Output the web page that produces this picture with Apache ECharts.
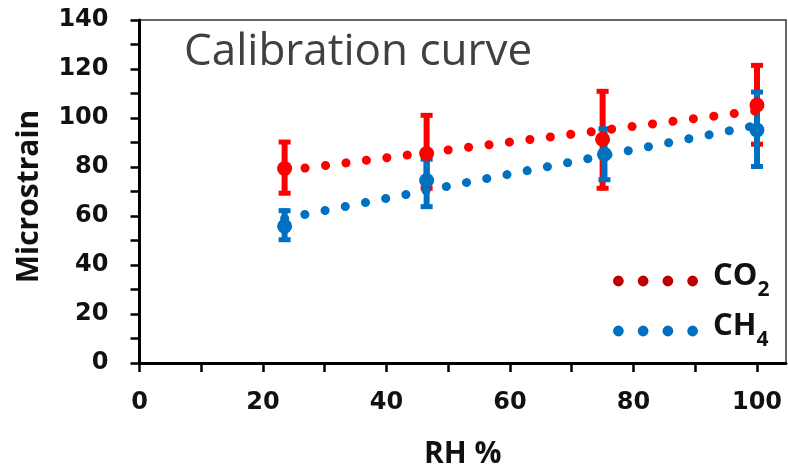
<!DOCTYPE html>
<html><head><meta charset="utf-8">
<script src="https://cdn.jsdelivr.net/npm/echarts@6/dist/echarts.min.js"></script>
<style>html,body{margin:0;padding:0;background:#fff}#c{width:788px;height:468px}</style>
</head><body><div id="c"></div>
<script>
// RH (%) of measurements
const rhCO2 = [23.5, 46.5, 75, 100];
const rhCH4 = [23.5, 46.5, 75.3, 100];
// CO2 microstrain mean and error-bar ends
const co2 = [79.4, 85.5, 91.3, 105.3];
const co2Low = [68.5, 70.5, 70.5, 88.5];
const co2High = [91, 101.9, 111.7, 122.3];
// CH4 microstrain mean and error-bar ends
const ch4 = [55.8, 74.5, 85.2, 95.1];
const ch4Low = [49.5, 63, 74, 79.4];
const ch4High = [63, 84, 96.4, 111.4];
// trend line ends
const trendX = [23.5, 100];
const co2Trend = [78.5, 103];
const ch4Trend = [59, 97];
// axis ticks
const xTicks = [0,10,20,30,40,50,60,70,80,90,100];
const xLabels = [0,20,40,60,80,100];
const yTicks = [0,10,20,30,40,50,60,70,80,90,100,110,120,130,140];
const yLabels = [0,20,40,60,80,100,120,140];

const RED = '#FF0000', BLUE = '#0070C0';
const pairs = (xs, ys) => xs.map((x, i) => [x, ys[i]]);
const errData = (xs, lo, hi) => xs.map((x, i) => [x, lo[i], hi[i]]);

function errRender(color) {
  return function (params, api) {
    const x = api.value(0), lo = api.value(1), hi = api.value(2);
    const p1 = api.coord([x, lo]), p2 = api.coord([x, hi]);
    const cw = 6;
    return {
      type: 'group',
      children: [
        {type: 'line', shape: {x1: p1[0], y1: p1[1], x2: p2[0], y2: p2[1]}, style: {stroke: color, lineWidth: 6}},
        {type: 'line', shape: {x1: p1[0]-cw, y1: p1[1]-2, x2: p1[0]+cw, y2: p1[1]-2}, style: {stroke: color, lineWidth: 5}},
        {type: 'line', shape: {x1: p2[0]-cw, y1: p2[1]+2, x2: p2[0]+cw, y2: p2[1]+2}, style: {stroke: color, lineWidth: 5}}
      ]
    };
  };
}

const dotsIcon = 'path://M0,5a5,5 0 1,0 10,0a5,5 0 1,0 -10,0ZM23,5a5,5 0 1,0 10,0a5,5 0 1,0 -10,0ZM46,5a5,5 0 1,0 10,0a5,5 0 1,0 -10,0ZM69,5a5,5 0 1,0 10,0a5,5 0 1,0 -10,0Z';
const legendText = {
  color: '#111',
  padding: [0, 0, 0, 10],
  rich: {
    a: {fontFamily: 'Open Sans', fontWeight: 'bold', fontSize: 31, lineHeight: 40, verticalAlign: 'top', color: '#111'},
    b: {fontFamily: 'Open Sans', fontWeight: 'bold', fontSize: 21, lineHeight: 20, verticalAlign: 'bottom', color: '#111'}
  }
};

const chart = echarts.init(document.getElementById('c'), null, {renderer: 'canvas'});
chart.setOption({
  animation: false,
  backgroundColor: '#fff',
  title: {
    text: 'Calibration curve', left: 179, top: 25,
    textStyle: {fontFamily: 'Open Sans', fontWeight: 'normal', fontSize: 44, color: '#404040'}
  },
  legend: [
    {data: [{name: 'CO2', itemStyle: {color: '#C00000'}}], left: 608, top: 256, icon: dotsIcon, itemWidth: 85, itemHeight: 11,
     formatter: () => '{a|CO}{b|2}', textStyle: legendText, selectedMode: false},
    {data: [{name: 'CH4', itemStyle: {color: BLUE}}], left: 608, top: 306, icon: dotsIcon, itemWidth: 85, itemHeight: 11,
     formatter: () => '{a|CH}{b|4}', textStyle: legendText, selectedMode: false}
  ],
  grid: {left: 139.5, top: 20, right: 2, bottom: 105, show: true, borderColor: '#333', borderWidth: 1.5,
         containLabel: false, outerBoundsMode: 'none'},
  xAxis: {
    type: 'value', min: 0, max: 104.7,
    name: 'RH %', nameLocation: 'middle', nameGap: 76,
    nameTextStyle: {fontFamily: 'Open Sans', fontWeight: 'bold', fontSize: 30, color: '#111'},
    axisLine: {show: true, lineStyle: {color: '#000', width: 3}},
    axisTick: {show: true, customValues: xTicks, length: 9, lineStyle: {color: '#000', width: 2.5}},
    axisLabel: {customValues: xLabels, margin: 28, fontFamily: 'DejaVu Sans', fontWeight: 'bold', fontSize: 24, color: '#111'},
    splitLine: {show: false}
  },
  yAxis: {
    type: 'value', min: 0, max: 140,
    name: 'Microstrain', nameLocation: 'middle', nameGap: 95,
    nameTextStyle: {fontFamily: 'Open Sans', fontWeight: 'bold', fontSize: 30, color: '#111', padding: [0, 10, 0, 0]},
    axisLine: {show: true, lineStyle: {color: '#000', width: 3}},
    axisTick: {show: true, customValues: yTicks, length: 9, lineStyle: {color: '#000', width: 2.5}},
    axisLabel: {customValues: yLabels, margin: 31, fontFamily: 'DejaVu Sans', fontWeight: 'bold', fontSize: 24, color: '#111'},
    splitLine: {show: false}
  },
  series: [
    {name: 'CO2 err', type: 'custom', renderItem: errRender(RED), data: errData(rhCO2, co2Low, co2High), encode: {x: 0, y: [1, 2]}, z: 2},
    {name: 'CH4 err', type: 'custom', renderItem: errRender(BLUE), data: errData(rhCH4, ch4Low, ch4High), encode: {x: 0, y: [1, 2]}, z: 3},
    {name: 'CO2', type: 'line', data: pairs(trendX, co2Trend), showSymbol: false, symbol: 'none', z: 4,
     itemStyle: {color: RED}, lineStyle: {color: RED, width: 9, type: [0.1, 20.5], cap: 'round'}},
    {name: 'CH4', type: 'line', data: pairs(trendX, ch4Trend), showSymbol: false, symbol: 'none', z: 4,
     itemStyle: {color: BLUE}, lineStyle: {color: BLUE, width: 9, type: [0.1, 20.5], cap: 'round'}},
    {name: 'CO2 pts', type: 'scatter', data: pairs(rhCO2, co2), symbolSize: 15, itemStyle: {color: RED, opacity: 1}, z: 5},
    {name: 'CH4 pts', type: 'scatter', data: pairs(rhCH4, ch4), symbolSize: 15, itemStyle: {color: BLUE, opacity: 1}, z: 6}
  ]
});
</script></body></html>
